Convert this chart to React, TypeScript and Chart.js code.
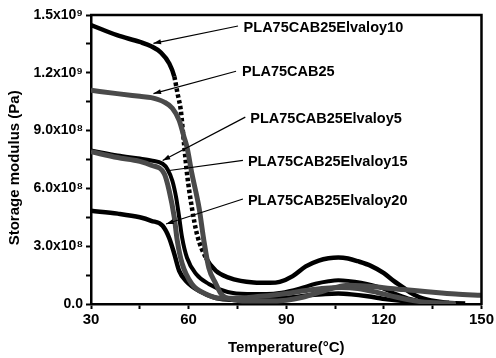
import React, { useEffect, useRef } from 'react';
import { Chart, registerables } from 'chart.js';

Chart.register(...registerables);

// ---------- data (temperature in °C, storage modulus in Pa) ----------
const temps10 = [30, 38, 45, 48.5, 51.5, 54, 55.6, 56.6, 57.6, 58.6, 59.5, 61, 62.6, 65.3, 68.4, 72.3, 76, 80, 85, 88, 92, 96, 100, 103, 106, 109, 112, 116, 120, 123, 126, 128, 131, 136, 140];
const modulus10 = [14.48e8, 13.95e8, 13.6e8, 13.38e8, 13.05e8, 12.5e8, 11.8e8, 10.92e8, 10.05e8, 8.3e8, 6.77e8, 5.0e8, 3.6e8, 2.4e8, 1.72e8, 1.37e8, 1.2e8, 1.12e8, 1.1e8, 1.15e8, 1.45e8, 1.95e8, 2.25e8, 2.37e8, 2.41e8, 2.36e8, 2.22e8, 1.98e8, 1.6e8, 1.2e8, 0.85e8, 0.6e8, 0.35e8, 0.14e8, 0.06e8];

const tempsBase = [30, 38, 45, 48.5, 52.5, 55, 57.1, 58.6, 59.5, 61, 63.2, 64.7, 66.2, 68.4, 70, 73, 78, 84, 90, 95, 100, 105, 109, 113, 118, 122, 126, 131, 136, 142, 150];
const modulusBase = [11.09e8, 10.92e8, 10.78e8, 10.71e8, 10.48e8, 10.16e8, 9.53e8, 8.66e8, 8.14e8, 6.77e8, 5.0e8, 3.28e8, 1.88e8, 1.04e8, 0.52e8, 0.25e8, 0.15e8, 0.15e8, 0.2e8, 0.35e8, 0.6e8, 0.85e8, 0.97e8, 0.95e8, 0.88e8, 0.8e8, 0.75e8, 0.68e8, 0.6e8, 0.52e8, 0.45e8];

const temps5 = [30, 38.2, 45, 48.5, 52, 53.5, 55, 56.2, 57.1, 58, 59.5, 62.3, 66.2, 72, 78, 84, 88.5, 94, 99, 103, 106, 109, 113, 119, 124, 128, 133, 140];
const modulus5 = [7.97e8, 7.71e8, 7.55e8, 7.45e8, 7.28e8, 7.0e8, 6.4e8, 5.5e8, 4.5e8, 3.44e8, 2.4e8, 1.56e8, 1.04e8, 0.62e8, 0.52e8, 0.52e8, 0.59e8, 0.8e8, 1.05e8, 1.18e8, 1.23e8, 1.2e8, 1.1e8, 0.85e8, 0.5e8, 0.26e8, 0.1e8, 0.04e8];

const temps15 = [30, 38.2, 45, 48.5, 52.5, 54, 55.6, 56.5, 58, 61, 65.3, 70, 75, 82, 90, 96, 102, 107, 112, 118, 124, 130, 136, 142];
const modulus15 = [7.9e8, 7.6e8, 7.4e8, 7.2e8, 6.77e8, 5.9e8, 4.5e8, 3.3e8, 2.1e8, 1.04e8, 0.52e8, 0.3e8, 0.3e8, 0.4e8, 0.55e8, 0.7e8, 0.82e8, 0.86e8, 0.8e8, 0.6e8, 0.35e8, 0.15e8, 0.06e8, 0.03e8];

const temps20 = [30, 38.2, 45, 48.5, 52, 54, 55.6, 57.1, 59.2, 63.2, 68.4, 73, 80, 90.6, 97, 102, 106, 110, 115, 121, 128, 136, 145];
const modulus20 = [4.84e8, 4.69e8, 4.5e8, 4.32e8, 4.06e8, 3.44e8, 2.6e8, 1.72e8, 1.2e8, 0.68e8, 0.31e8, 0.22e8, 0.24e8, 0.33e8, 0.45e8, 0.52e8, 0.54e8, 0.5e8, 0.4e8, 0.24e8, 0.12e8, 0.07e8, 0.03e8];

const seriesNames = ['PLA75CAB25Elvaloy10', 'PLA75CAB25', 'PLA75CAB25Elvaloy5', 'PLA75CAB25Elvaloy15', 'PLA75CAB25Elvaloy20'];

const xTickLabels = ['30', '60', '90', '120', '150'];
const yTickLabels = ['0.0', '3.0x10\u2078', '6.0x10\u2078', '9.0x10\u2078', '1.2x10\u2079', '1.5x10\u2079'];

const xTitle = 'Temperature(\u00B0C)';
const yTitle = 'Storage modulus (Pa)';

// label anchor, arrow start, arrow end (data coordinates)
const labelAnchors = [
  { text: seriesNames[0], at: [76.9, 14.31e8], from: [75.17, 14.43e8], to: [49.19, 13.53e8], head: true },
  { text: seriesNames[1], at: [76.39, 12.05e8], from: [74.56, 12.08e8], to: [49.19, 10.92e8], head: true },
  { text: seriesNames[2], at: [78.94, 9.62e8], from: [77.42, 9.7e8], to: [52.02, 7.45e8], head: true },
  { text: seriesNames[3], at: [78.21, 7.36e8], from: [76.69, 7.45e8], to: [54.06, 6.93e8], head: false },
  { text: seriesNames[4], at: [78.21, 5.36e8], from: [76.69, 5.45e8], to: [53.06, 4.15e8], head: true },
];

const FONT = "'Liberation Sans', Arial, Helvetica, sans-serif";

const zip = (xs: number[], ys: number[]) => xs.map((x, i) => ({ x, y: ys[i] }));

const framePlugin = {
  id: 'frameAndLabels',
  afterDatasetsDraw(chart: any) {
    const { ctx, chartArea, scales } = chart;
    const { left, right, top, bottom } = chartArea;
    const xs = scales.x;
    const ys = scales.y;
    ctx.save();
    ctx.strokeStyle = '#000';
    ctx.lineWidth = 2.5;
    ctx.beginPath();
    ctx.moveTo(left - 1, top);
    ctx.lineTo(right, top);
    ctx.lineTo(right, bottom + 1);
    ctx.stroke();

    ctx.font = `bold 14.5px ${FONT}`;
    ctx.textBaseline = 'middle';
    ctx.textAlign = 'left';
    ctx.fillStyle = '#000';
    for (const a of labelAnchors) {
      ctx.fillText(a.text, xs.getPixelForValue(a.at[0]), ys.getPixelForValue(a.at[1]));
      const x1 = xs.getPixelForValue(a.from[0]);
      const y1 = ys.getPixelForValue(a.from[1]);
      const x2 = xs.getPixelForValue(a.to[0]);
      const y2 = ys.getPixelForValue(a.to[1]);
      ctx.lineWidth = 1.2;
      ctx.beginPath();
      ctx.moveTo(x1, y1);
      ctx.lineTo(x2, y2);
      ctx.stroke();
      if (a.head) {
        const ang = Math.atan2(y2 - y1, x2 - x1);
        const L = 8;
        const w = 0.32;
        ctx.beginPath();
        ctx.moveTo(x2, y2);
        ctx.lineTo(x2 - L * Math.cos(ang - w), y2 - L * Math.sin(ang - w));
        ctx.lineTo(x2 - L * Math.cos(ang + w), y2 - L * Math.sin(ang + w));
        ctx.closePath();
        ctx.fill();
      }
    }
    ctx.restore();
  },
};

const steepDash = (ctx: any) => {
  const dx = Math.abs(ctx.p1.x - ctx.p0.x);
  const dy = Math.abs(ctx.p1.y - ctx.p0.y);
  return dy > 2.5 * dx && ctx.p0.parsed.x > 55 ? [3.5, 2.5] : undefined;
};

export default function App() {
  const ref = useRef<HTMLCanvasElement | null>(null);

  useEffect(() => {
    if (!ref.current) return;
    const common = {
      fill: false,
      pointRadius: 0,
      cubicInterpolationMode: 'monotone' as const,
      borderCapStyle: 'butt' as const,
      borderJoinStyle: 'round' as const,
    };
    const chart = new Chart(ref.current, {
      type: 'line',
      data: {
        datasets: [
          { ...common, label: seriesNames[1], data: zip(tempsBase, modulusBase), borderColor: '#4a4a4a', borderWidth: 5 },
          { ...common, label: seriesNames[1] + ' ', data: zip(tempsBase, modulusBase), borderColor: '#c8c8c8', borderWidth: 2.2, borderDash: [2, 1.5] },
          { ...common, label: seriesNames[3], data: zip(temps15, modulus15), borderColor: '#4a4a4a', borderWidth: 5 },
          { ...common, label: seriesNames[3] + ' ', data: zip(temps15, modulus15), borderColor: '#c8c8c8', borderWidth: 2.2, borderDash: [2, 1.5] },
          { ...common, label: seriesNames[2], data: zip(temps5, modulus5), borderColor: '#000', borderWidth: 4 },
          { ...common, label: seriesNames[4], data: zip(temps20, modulus20), borderColor: '#000', borderWidth: 4.5 },
          { ...common, label: seriesNames[0], data: zip(temps10, modulus10), borderColor: '#000', borderWidth: 4.5, segment: { borderDash: steepDash } },
        ] as any,
      },
      options: {
        animation: false,
        responsive: false,
        maintainAspectRatio: false,
        events: [],
        layout: { padding: { left: 0, top: 15, right: 11, bottom: 0 } },
        plugins: {
          legend: { display: false },
          tooltip: { enabled: false },
        },
        scales: {
          x: {
            type: 'linear',
            min: 30,
            max: 150,
            afterFit: (s: any) => { s.height = 54; },
            border: { display: true, color: '#000', width: 2.5 },
            grid: { drawOnChartArea: false, drawTicks: true, tickLength: 5, tickColor: '#000', tickWidth: 2 },
            ticks: {
              stepSize: 15,
              autoSkip: false,
              maxRotation: 0,
              padding: 2,
              color: '#000',
              font: { family: FONT, size: 15, weight: 'bold' },
              callback: (v: any, i: number) => (i % 2 === 0 ? xTickLabels[i / 2] : ''),
            },
            title: {
              display: true,
              text: xTitle,
              color: '#000',
              font: { family: FONT, size: 15, weight: 'bold', lineHeight: 1.2 },
              padding: { top: 0, bottom: 1 },
            },
          },
          y: {
            type: 'linear',
            min: 0,
            max: 1.5e9,
            afterFit: (s: any) => { s.width = 91; },
            border: { display: true, color: '#000', width: 2.5 },
            grid: { drawOnChartArea: false, drawTicks: true, tickLength: 5, tickColor: '#000', tickWidth: 2 },
            ticks: {
              stepSize: 1.5e8,
              autoSkip: false,
              padding: 3,
              color: '#000',
              font: { family: FONT, size: 14, weight: 'bold' },
              callback: (v: any, i: number) => (i % 2 === 0 ? yTickLabels[i / 2] : ''),
            },
            title: {
              display: true,
              text: yTitle + '\u00A0\u00A0\u00A0\u00A0',
              color: '#000',
              font: { family: FONT, size: 15, weight: 'bold', lineHeight: 1.2 },
              padding: { top: 6, bottom: 0 },
            },
          },
        },
      },
      plugins: [framePlugin],
    });
    return () => chart.destroy();
  }, []);

  return (
    <div style={{ position: 'absolute', left: 0, top: 0, width: 496, height: 358, background: '#fff' }}>
      <canvas ref={ref} width={496} height={358} style={{ display: 'block', width: 496, height: 358 }} />
    </div>
  );
}
